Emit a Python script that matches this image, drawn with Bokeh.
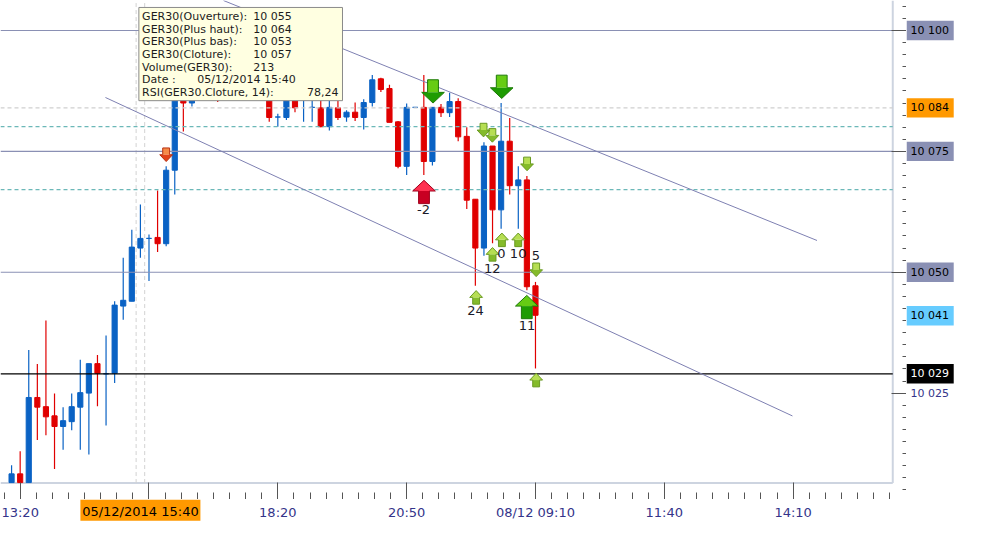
import numpy as np
from bokeh.plotting import figure
from bokeh.layouts import row, column
from bokeh.models import ColumnDataSource, FixedTicker, Label, BoxAnnotation
from bokeh.embed import file_html
from bokeh.resources import INLINE

# GER30, 10-minute bars, index 0 = 05/12/2014 13:10
opens = [10006.5, 10008.3, 10006.5, 10024.1, 10022.2, 10020.3, 10018.1, 10019.1, 10022.1, 10025.0,
         10031.1, 10029.0, 10029.1, 10043.0, 10044.0, 10055.0, 10057.0, 10057.2, 10055.9, 10071.1,
         10087.0, 10085.0, 10086.5, 10088.0, 10090.0, 10087.0, 10089.0, 10091.0, 10089.0, 10087.0,
         10088.5, 10082.1, 10082.0, 10085.5, 10086.0, 10084.1, 10084.0, 10080.1, 10084.0, 10082.1,
         10083.1, 10082.0, 10085.1, 10090.0, 10088.0, 10081.1, 10071.9, 10084.1, 10084.1, 10072.9,
         10084.1, 10083.0, 10085.3, 10078.1, 10065.1, 10055.0, 10076.1, 10062.9, 10077.1, 10067.9,
         10069.1, 10047.2]
highs = [10010.1, 10013.0, 10033.9, 10031.0, 10040.0, 10024.9, 10022.1, 10024.9, 10031.9, 10031.1,
         10032.9, 10036.9, 10044.0, 10053.0, 10058.8, 10064.0, 10057.8, 10066.9, 10071.9, 10088.0,
         10088.0, 10087.5, 10089.0, 10091.0, 10091.0, 10090.0, 10092.0, 10093.0, 10091.0, 10090.0,
         10089.5, 10082.8, 10087.0, 10087.5, 10089.0, 10086.5, 10086.0, 10085.6, 10085.5, 10083.5,
         10085.1, 10085.8, 10090.8, 10090.2, 10088.8, 10081.3, 10084.9, 10084.2, 10090.8, 10084.1,
         10084.8, 10087.1, 10086.0, 10080.0, 10065.1, 10076.9, 10076.1, 10085.0, 10081.9, 10071.9,
         10069.9, 10048.0]
lows = [10006.5, 10006.5, 10006.5, 10015.3, 10016.3, 10009.3, 10013.3, 10017.3, 10013.3, 10012.3,
        10022.3, 10018.3, 10027.1, 10040.2, 10044.0, 10053.0, 10048.2, 10054.2, 10055.4, 10066.1,
        10079.1, 10084.3, 10085.8, 10086.5, 10085.2, 10086.0, 10087.5, 10088.0, 10086.0, 10086.0,
        10081.1, 10080.1, 10081.5, 10083.1, 10081.1, 10081.1, 10080.0, 10079.3, 10081.5, 10081.1,
        10081.3, 10079.5, 10084.3, 10087.3, 10081.0, 10071.5, 10070.1, 10084.0, 10070.1, 10072.1,
        10082.1, 10082.1, 10077.1, 10063.1, 10047.2, 10053.4, 10056.0, 10059.0, 10066.1, 10059.0,
        10046.3, 10030.1]
closes = [10008.3, 10006.5, 10024.1, 10022.1, 10020.1, 10018.1, 10019.3, 10022.2, 10025.1, 10031.1,
          10029.1, 10029.0, 10043.2, 10044.2, 10055.2, 10057.0, 10057.0, 10055.9, 10071.1, 10086.0,
          10085.0, 10086.5, 10088.0, 10090.0, 10087.0, 10089.0, 10091.0, 10089.0, 10087.0, 10088.5,
          10082.0, 10082.1, 10085.5, 10084.0, 10087.0, 10084.1, 10080.1, 10084.1, 10082.0, 10083.1,
          10082.0, 10085.1, 10089.8, 10087.8, 10081.0, 10071.9, 10084.1, 10084.1, 10072.9, 10084.1,
          10083.0, 10085.3, 10078.0, 10064.9, 10055.0, 10076.1, 10062.9, 10077.1, 10067.9, 10069.1,
          10047.0, 10041.1]

tick_idx = [1, 16, 31, 46, 61, 76, 91]
tick_labels = ["13:20", "15:50", "18:20", "20:50", "08/12 09:10", "11:40", "14:10"]
y_ticks = [10025, 10050, 10075, 10100]

solid_levels = [10100, 10075, 10050]
black_level = 10029
gray_dash_level = 10084
teal_levels = [10080.1, 10067.1]
price_boxes = [10100, 10084, 10075, 10050, 10041, 10029]
price_box_bg = ["#8a90b4", "#ff9900", "#8a90b4", "#8a90b4", "#66ccff", "#000000"]
price_box_fg = ["#000000", "#000000", "#000000", "#000000", "#000000", "#ffffff"]

trend_x0 = [24.67, 10.93]
trend_y0 = [10106.2, 10086.14]
trend_x1 = [93.78, 90.92]
trend_y1 = [10056.57, 10020.28]

arrow_x = [18.0, 49.07, 57.07, 54.95, 55.98, 60.02, 61.08, 48.02, 54.09, 56.0, 57.09, 58.99, 59.99, 61.08]
arrow_y = [10074.3, 10087.4, 10088.35, 10079.4, 10078.3, 10072.4, 10050.5,
           10066.6, 10044.8, 10053.7, 10056.7, 10056.7, 10042.8, 10027.7]
arrow_dir = ["down"] * 7 + ["up"] * 7
arrow_kind = ["small_red", "big_green", "big_green", "small_green", "small_green", "small_green",
              "small_green", "big_red", "small_green", "small_green", "small_green", "small_green",
              "big_green", "small_green"]

sig_text = ["-2", "24", "12", "0", "10", "5", "11"]
sig_x = [47.96, 54.03, 55.98, 57.03, 58.98, 61.04, 60.02]
sig_y = [10062.9, 10042.0, 10050.7, 10053.8, 10053.8, 10053.4, 10039.0]

crosshair_bar = 15
tip_volume = "213"
tip_date = "05/12/2014 15:40"
tip_rsi = "78,24"

# layout (reference is 983x539, page gives 967x523)
W, H = 967, 523
SX, SY = W / 983, H / 539
WM, HM = round(921 * SX), round(514 * SY)   # chart incl. tick zone
WR, HB = W - WM, H - HM                     # price scale column, time scale row
X_START, X_END = -1.29, 104.2
Y_START, Y_END = 10003.0, 10106.2
X_INNER, Y_INNER = 102.6, 10006.4
PXX = WM / (X_END - X_START)
PXY = HM / (Y_END - Y_START)

BLUE, RED = "#0a62c4", "#e00000"
NAVY = "#34348a"
AXIS = "#555555"
FONT = "DejaVu Sans"


def fmt(v):
    return f"{v:,.0f}".replace(",", " ")


def bare(fig):
    fig.grid.visible = False
    fig.outline_line_color = None
    fig.background_fill_color = "white"
    fig.border_fill_color = "white"
    return fig


p = bare(figure(width=WM, height=HM, output_backend="svg", toolbar_location=None,
                x_range=(X_START, X_END), y_range=(Y_START, Y_END),
                y_axis_location="right", min_border=0))

yax = p.yaxis[0]
yax.ticker = FixedTicker(ticks=y_ticks, minor_ticks=list(np.arange(10005, 10106, 2.5)))
yax.major_tick_in, yax.major_tick_out = 15, 0
yax.minor_tick_in, yax.minor_tick_out = 4, 0

xax = p.xaxis[0]
minor_x = [tick_idx[0] + k * 15 / 8 for k in range(-1, 56)]
xax.ticker = FixedTicker(ticks=tick_idx, minor_ticks=[m for m in minor_x if X_START < m < X_INNER])
xax.major_tick_in, xax.major_tick_out = 17, 0
xax.minor_tick_in, xax.minor_tick_out = 7, 0

for ax in (xax, yax):
    ax.axis_line_color = ax.major_tick_line_color = ax.minor_tick_line_color = AXIS
    # the scale texts are drawn in the side strips below
    ax.major_label_text_color = None
    ax.major_label_text_font_size = "1px"
    ax.major_label_standoff = 0

# inner frame border
p.segment(x0=[X_START, X_INNER], y0=[Y_INNER, Y_INNER], x1=[X_INNER, X_INNER], y1=[Y_INNER, Y_END],
          line_color="#cdd4e0", line_width=2)

# crosshair column
p.segment(x0=[crosshair_bar - 0.5, crosshair_bar + 0.5], y0=[Y_INNER] * 2,
          x1=[crosshair_bar - 0.5, crosshair_bar + 0.5], y1=[Y_END] * 2,
          line_color="#d2d2d2", line_dash="4 3", line_width=1)

# candles
o, hi, lo, c = map(np.array, (opens, highs, lows, closes))
idx = np.arange(len(o))
src = ColumnDataSource(dict(x=idx, h=hi, l=lo, top=np.maximum(o, c), bottom=np.minimum(o, c),
                            color=np.where(c >= o, BLUE, RED)))
p.segment("x", "h", "x", "l", line_color="color", line_width=1.2, source=src)
p.vbar(x="x", width=0.6, top="top", bottom="bottom", fill_color="color", line_color="color",
       line_width=1, source=src)

# horizontal levels
n = len(solid_levels)
p.segment(x0=[X_START] * n, x1=[X_INNER] * n, y0=solid_levels, y1=solid_levels,
          line_color="#8a90b4", line_width=1.2)
p.segment(x0=[X_START], x1=[X_INNER], y0=[black_level], y1=[black_level],
          line_color="#000000", line_width=1.2)
p.segment(x0=[X_START], x1=[X_INNER], y0=[gray_dash_level], y1=[gray_dash_level],
          line_color="#d0d0d0", line_dash="4 3", line_width=1.2)
n = len(teal_levels)
p.segment(x0=[X_START] * n, x1=[X_INNER] * n, y0=teal_levels, y1=teal_levels,
          line_color="#6cb8b8", line_dash="4 3", line_width=1.2)

# trend lines
p.segment(x0=trend_x0, y0=trend_y0, x1=trend_x1, y1=trend_y1, line_color="#7e80b2", line_width=1)

# signal arrows: (width, height, head height, stem width), upper tone, lower tone, outline
styles = {
    "small_red": ((13, 14, 7, 7), "#f58a48", "#e2431a", "#b83010"),
    "small_green": ((13, 14, 7, 7), "#b6de52", "#84bb2a", "#6a9a22"),
    "big_green": ((23, 24, 11, 11), "#66cc14", "#1e9c02", "#1c7a06"),
    "big_red": ((23, 24, 11, 11), "#ff3050", "#c80022", "#a0001c"),
}
stem_xs, stem_ys, stem_c = [], [], []
head_xs, head_ys, head_c = [], [], []
out_xs, out_ys, out_c = [], [], []
for xc, yc, d, k in zip(arrow_x, arrow_y, arrow_dir, arrow_kind):
    (w, h, hh, sw), light, dark, lc = styles[k]
    top, neck, bot = h / 2, -h / 2 + hh, -h / 2
    stem = [(-sw / 2, top), (sw / 2, top), (sw / 2, neck), (-sw / 2, neck)]
    head = [(-w / 2, neck), (w / 2, neck), (0, bot)]
    sgn = 1 if d == "down" else -1

    def conv(pts):
        return ([xc + dx * SX / PXX for dx, dy in pts],
                [yc + sgn * dy * SY / PXY for dx, dy in pts])

    sx_, sy_ = conv(stem)
    hx_, hy_ = conv(head)
    ox_, oy_ = conv(stem[:2] + [stem[2], head[1], head[2], head[0], stem[3]])
    stem_xs.append(sx_); stem_ys.append(sy_); stem_c.append(light if d == "down" else dark)
    head_xs.append(hx_); head_ys.append(hy_); head_c.append(dark if d == "down" else light)
    out_xs.append(ox_); out_ys.append(oy_); out_c.append(lc)
p.patches(stem_xs, stem_ys, fill_color=stem_c, line_color=None)
p.patches(head_xs, head_ys, fill_color=head_c, line_color=None)
p.patches(out_xs, out_ys, fill_color=None, line_color=out_c, line_width=1)
p.text(x=sig_x, y=sig_y, text=sig_text, text_align="center", text_baseline="middle",
       text_font_size="13px", text_color="#1a1a2a", text_font={"value": FONT})

# tooltip
TIP_L, TIP_R, TIP_T, TIP_B = 14.82, 38.53, 10104.76, 10085.48
p.add_layout(BoxAnnotation(left=TIP_L, right=TIP_R, top=TIP_T, bottom=TIP_B,
                           fill_color="#ffffe1", fill_alpha=1, line_color="#8a8a8a",
                           line_width=1, line_alpha=1))
rows = [("GER30(Ouverture):", fmt(o[crosshair_bar]), 113),
        ("GER30(Plus haut):", fmt(hi[crosshair_bar]), 113),
        ("GER30(Plus bas):", fmt(lo[crosshair_bar]), 113),
        ("GER30(Cloture):", fmt(c[crosshair_bar]), 113),
        ("Volume(GER30):", tip_volume, 113),
        ("Date :", tip_date, 56),
        ("RSI(GER30.Cloture, 14):", tip_rsi, None)]
for k, (name, val, off) in enumerate(rows):
    yo = -(9.4 + 13 * k) * SY
    p.add_layout(Label(x=TIP_L, y=TIP_T, x_offset=3.3 * SX, y_offset=yo, text=name,
                       text_baseline="middle", text_font=FONT, text_font_size="11px",
                       text_color="#1c1c1c"))
    if off is None:
        p.add_layout(Label(x=TIP_R, y=TIP_T, x_offset=-4 * SX, y_offset=yo, text=val,
                           text_align="right", text_baseline="middle", text_font=FONT,
                           text_font_size="11px", text_color="#1c1c1c"))
    else:
        p.add_layout(Label(x=TIP_L, y=TIP_T, x_offset=(3.3 + off) * SX, y_offset=yo, text=val,
                           text_baseline="middle", text_font=FONT, text_font_size="11px",
                           text_color="#1c1c1c"))

# price scale labels (shares the chart's y scale)
r = bare(figure(width=WR, height=HM, output_backend="svg", toolbar_location=None,
                x_range=(0, WR), y_range=p.y_range, x_axis_location=None,
                y_axis_location=None, min_border=0))
plain = [t for t in y_ticks if t not in solid_levels]
r.text(x=[4 * SX] * len(plain), y=plain, text=[fmt(t) for t in plain], text_align="left",
       text_baseline="middle", text_font_size="11px", text_color=NAVY,
       text_font={"value": FONT})
r.rect(x=[24 * SX] * len(price_boxes), y=price_boxes, width=48 * SX, height=20 * SY,
       width_units="screen", height_units="screen", fill_color=price_box_bg, line_color=None)
r.text(x=[4 * SX] * len(price_boxes), y=price_boxes, text=[fmt(v) for v in price_boxes],
       text_align="left", text_baseline="middle", text_font_size="11px",
       text_color=price_box_fg, text_font={"value": FONT})

# time scale labels (shares the chart's x scale)
b = bare(figure(width=WM, height=HB, output_backend="svg", toolbar_location=None,
                x_range=p.x_range, y_range=(0, HB), x_axis_location=None,
                y_axis_location=None, min_border=0))
shown = [(t, s) for t, s in zip(tick_idx, tick_labels) if t != crosshair_bar + 1]
b.text(x=[t for t, s in shown], y=[HB - 13 * SY] * len(shown), text=[s for t, s in shown],
       text_align="center", text_baseline="middle", text_font_size="13px", text_color=NAVY,
       text_font={"value": FONT})
b.rect(x=[crosshair_bar], y=[HB - 11 * SY], width=122 * SX, height=22 * SY,
       width_units="screen", height_units="screen", fill_color="#ff9900", line_color=None)
b.text(x=[crosshair_bar], y=[HB - 12 * SY], text=[tip_date], text_align="center",
       text_baseline="middle", text_font_size="13px", text_color="#000000",
       text_font={"value": FONT})

layout = column(row(p, r), b)
open("out.html", "w").write(file_html(layout, INLINE))
